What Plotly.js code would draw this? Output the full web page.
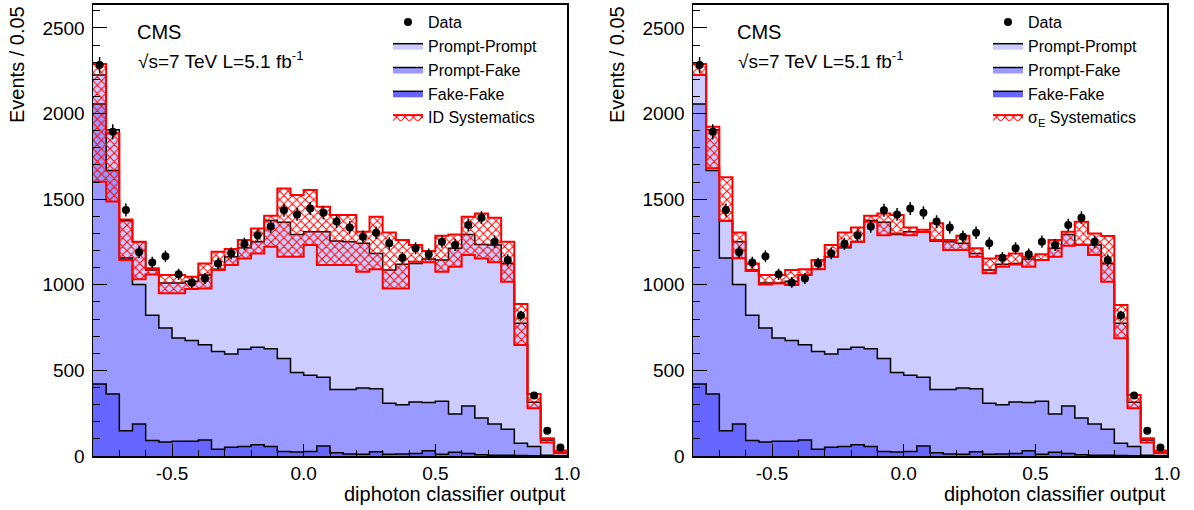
<!DOCTYPE html>
<html>
<head>
<meta charset="utf-8">
<script src="https://cdn.plot.ly/plotly-3.0.1.min.js"></script>
<style>
html,body{margin:0;padding:0;background:#fff;}
#chart{width:1194px;height:510px;}
</style>
</head>
<body>
<div id="chart"></div>
<script>
// ---- data ----
const binEdges = [-0.8,-0.75,-0.7,-0.65,-0.6,-0.55,-0.5,-0.45,-0.4,-0.35,-0.3,-0.25,-0.2,-0.15,-0.1,-0.05,0,0.05,0.1,0.15,0.2,0.25,0.3,0.35,0.4,0.45,0.5,0.55,0.6,0.65,0.7,0.75,0.8,0.85,0.9,0.95,1.0];

const dataEvents = [2283,1894,1437,1190,1130,1166,1061,1014,1037,1125,1184,1240,1289,1341,1435,1411,1446,1421,1369,1334,1281,1304,1242,1158,1213,1178,1252,1232,1349,1392,1252,1145,820,354,148,49];

const fakeFake = [420,362,148,187,90,82,86,86,93,39,51,55,66,55,27,23,27,58,19,12,10,25,10,12,14,30,10,22,15,8,5,4,3,2,1,0];

const promptFake = [1636,1305,1009,814,732,666,603,588,557,572,545,568,569,572,542,464,444,402,370,377,387,368,298,288,302,282,310,223,277,214,182,152,71,53,4,2];

const promptPrompt = [169,238,217,251,264,262,321,346,407,479,568,594,617,748,796,807,839,850,866,863,845,790,778,820,809,838,825,968,1002,1014,1045,969,701,259,89,20];

const idSystLow  = [1602,1486,1145,1032,1060,950,950,975,979,1086,1115,1154,1183,1222,1164,1164,1232,1116,1116,1116,1076,1090,979,979,1135,1131,1076,1106,1174,1154,1131,1018,648,279,79,16];
const idSystHigh = [2290,1885,1382,1252,1096,1057,1057,1047,1125,1193,1209,1261,1329,1403,1563,1524,1553,1456,1408,1408,1310,1398,1306,1261,1232,1197,1287,1294,1398,1417,1392,1252,888,362,104,32];

const sigESystLow  = [2225,1680,1374,1155,1080,1002,1008,999,1057,1090,1164,1222,1252,1368,1290,1300,1290,1308,1261,1203,1203,1164,1067,1106,1119,1106,1145,1164,1228,1232,1174,1018,687,279,79,16];
const sigESystHigh = [2290,1923,1628,1305,1125,1057,1057,1086,1090,1145,1232,1306,1335,1403,1417,1407,1334,1322,1359,1261,1287,1213,1154,1170,1183,1164,1178,1261,1310,1368,1300,1285,882,357,103,32];

const xTickVals = [-0.5, 0, 0.5, 1.0];
const xTickText = ["-0.5", "0.0", "0.5", "1.0"];
const xTitle = "diphoton classifier output";
const yTitle = "Events / 0.05";

// ---- helpers ----
const binCenters = binEdges.slice(0, -1).map((e, i) => (e + binEdges[i + 1]) / 2);
function cumulative(...layers) {
  return layers[0].map((_, i) => layers.reduce((s, a) => s + a[i], 0));
}
function stepY(arr) { return arr.concat([arr[arr.length - 1]]); }

const ffTop = cumulative(fakeFake);
const pfTop = cumulative(fakeFake, promptFake);
const ppTop = cumulative(fakeFake, promptFake, promptPrompt);

const FONT = "Liberation Sans, Arial, Helvetica, sans-serif";
const C_PP = "#ccccff", C_PF = "#9999ff", C_FF = "#6666ff";

function panelTraces(xa, ya, leg, bandLow, bandHigh, bandName) {
  const common = {xaxis: xa, yaxis: ya, legend: leg, hoverinfo: "skip"};
  return [
    Object.assign({type: "scatter", mode: "lines", x: binEdges, y: stepY(ppTop),
      line: {shape: "hv", color: "black", width: 1.5}, fill: "tozeroy", fillcolor: C_PP,
      name: "Prompt-Prompt", legendrank: 2, legendgroup: "pp" + leg}, common),
    Object.assign({type: "scatter", mode: "lines", x: binEdges, y: stepY(pfTop),
      line: {shape: "hv", color: "black", width: 1.5}, fill: "tozeroy", fillcolor: C_PF,
      name: "Prompt-Fake", legendrank: 3, legendgroup: "pf" + leg}, common),
    Object.assign({type: "scatter", mode: "lines", x: binEdges, y: stepY(ffTop),
      line: {shape: "hv", color: "black", width: 1.5}, fill: "tozeroy", fillcolor: C_FF,
      name: "Fake-Fake", legendrank: 4, legendgroup: "ff" + leg}, common),
    Object.assign({type: "scatter", mode: "lines", x: binEdges, y: stepY(bandLow),
      line: {shape: "hv", color: "red", width: 2}, showlegend: false,
      legendgroup: "sy" + leg}, common),
    Object.assign({type: "scatter", mode: "lines", x: binEdges, y: stepY(bandHigh),
      line: {shape: "hv", color: "red", width: 2}, fill: "tonexty",
      fillcolor: "rgba(0,0,0,0)",
      fillpattern: {shape: "x", fgcolor: "red", bgcolor: "rgba(0,0,0,0)", size: 6, solidity: 0.3},
      name: bandName, legendrank: 5, legendgroup: "sy" + leg}, common),
    Object.assign({type: "scatter", mode: "markers", x: binCenters, y: dataEvents,
      marker: {color: "black", size: 8, symbol: "circle"},
      error_y: {type: "sqrt", color: "black", thickness: 1.5, width: 0},
      name: "Data", legendrank: 1, legendgroup: "d" + leg}, common)
  ];
}

const traces = [].concat(
  panelTraces("x", "y", "legend", idSystLow, idSystHigh, "ID Systematics"),
  panelTraces("x2", "y2", "legend2", sigESystLow, sigESystHigh, "σ<sub>E</sub> Systematics")
);

const W = 1194, H = 510;
const px = v => v / W, py = v => 1 - v / H;

function xAxis(dom) {
  return {
    domain: dom, range: [-0.8, 1.0], tickmode: "array", tickvals: xTickVals, ticktext: xTickText,
    ticks: "inside", ticklen: 12, tickwidth: 1, tickcolor: "black",
    minor: {dtick: 0.1, tick0: 0, ticks: "inside", ticklen: 6, tickcolor: "black", tickwidth: 1, showgrid: false},
    showgrid: false, zeroline: false, showline: true, mirror: true, linecolor: "black", linewidth: 1.5,
    tickfont: {family: FONT, size: 19, color: "black"}, fixedrange: true
  };
}
function yAxis(anchor) {
  return {
    domain: [py(456), py(4.5)], range: [0, 2637], tick0: 0, dtick: 500, anchor: anchor,
    ticks: "inside", ticklen: 14, tickwidth: 1, tickcolor: "black",
    minor: {dtick: 100, tick0: 0, ticks: "inside", ticklen: 7, tickcolor: "black", tickwidth: 1, showgrid: false},
    showgrid: false, zeroline: false, showline: true, mirror: true, linecolor: "black", linewidth: 1.5,
    tickfont: {family: FONT, size: 19, color: "black"}, ticklabelstandoff: 3, fixedrange: true
  };
}
function legend(xpx) {
  return {x: px(xpx), y: py(5), xanchor: "left", yanchor: "top", bgcolor: "rgba(0,0,0,0)",
    font: {family: FONT, size: 16, color: "black"}, traceorder: "grouped", tracegroupgap: 0,
    itemwidth: 30};
}

const annotations = [];
[[0, 93, 567], [600, 693, 1167]].forEach(([off, xl, xr]) => {
  annotations.push(
    {xref: "paper", yref: "paper", x: px(135 + off), y: py(32), xanchor: "left", yanchor: "middle",
     text: "CMS", showarrow: false, font: {family: FONT, size: 20, color: "black"}},
    {xref: "paper", yref: "paper", x: px(136 + off), y: py(60), xanchor: "left", yanchor: "middle",
     text: "√s=7 TeV L=5.1 fb<sup>-1</sup>", showarrow: false, font: {family: FONT, size: 19, color: "black"}},
    {xref: "paper", yref: "paper", x: px(17.5 + off), y: py(4), xanchor: "center", yanchor: "top",
     textangle: -90, text: yTitle, showarrow: false, font: {family: FONT, size: 20, color: "black"}},
    {xref: "paper", yref: "paper", x: px(xr + 1), y: py(494), xanchor: "right", yanchor: "middle",
     text: xTitle, showarrow: false, font: {family: FONT, size: 20, color: "black"}}
  );
});

const layout = {
  width: W, height: H, margin: {l: 0, r: 0, t: 0, b: 0},
  paper_bgcolor: "white", plot_bgcolor: "white",
  font: {family: FONT, color: "black"},
  xaxis: xAxis([px(93), px(567)]),
  yaxis: yAxis("x"),
  xaxis2: Object.assign(xAxis([px(693), px(1167)]), {anchor: "y2"}),
  yaxis2: yAxis("x2"),
  legend: legend(388),
  legend2: legend(988),
  annotations: annotations,
  showlegend: true
};
layout.xaxis.anchor = "y";

Plotly.newPlot("chart", traces, layout, {staticPlot: true, displayModeBar: false});
</script>
</body>
</html>
